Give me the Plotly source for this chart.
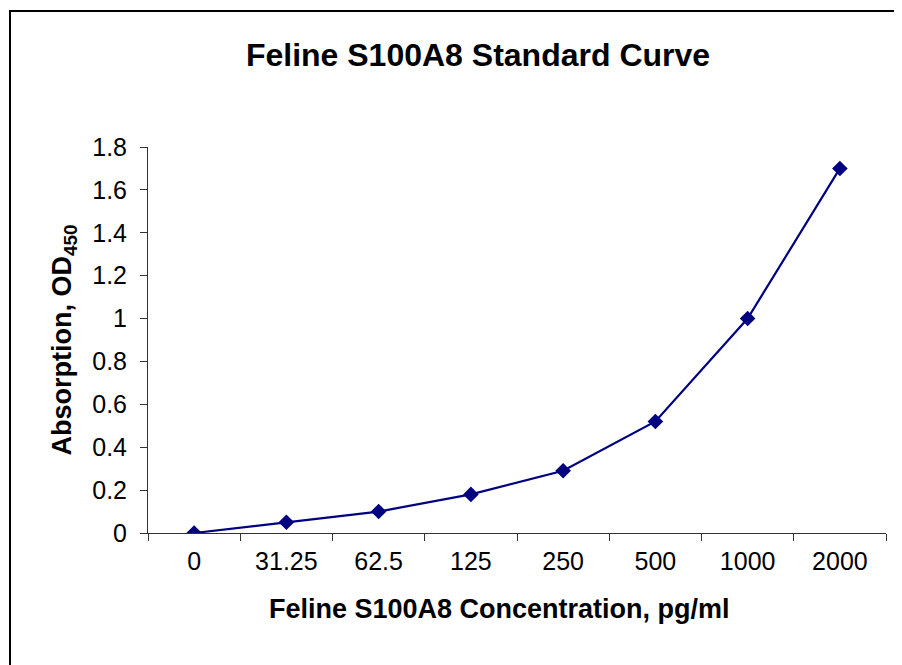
import plotly.graph_objects as go

concentrations = ["0", "31.25", "62.5", "125", "250", "500", "1000", "2000"]
absorbance = [0.0, 0.05, 0.10, 0.18, 0.29, 0.52, 1.00, 1.70]
y_ticks = [0, 0.2, 0.4, 0.6, 0.8, 1.0, 1.2, 1.4, 1.6, 1.8]
y_tick_text = ["0", "0.2", "0.4", "0.6", "0.8", "1", "1.2", "1.4", "1.6", "1.8"]

FONT = "Liberation Sans, Arial, sans-serif"

fig = go.Figure()
fig.add_trace(go.Scatter(
    x=concentrations, y=absorbance, mode="lines+markers",
    line=dict(color="#000080", width=2.2),
    marker=dict(symbol="diamond", size=12, color="#000080"),
    showlegend=False, hoverinfo="skip",
))

W, H = 902, 665
L, R, T, B = 140, 24, 139, 140
pw, ph = W - L - R, H - T - B

fig.update_layout(
    width=W, height=H,
    margin=dict(l=L, r=R, t=T, b=B, autoexpand=False),
    paper_bgcolor="white", plot_bgcolor="white",
    font=dict(family=FONT, color="black", size=24),
    title=dict(text="<b>Feline S100A8 Standard Curve</b>",
               font=dict(family=FONT, size=32, color="black"),
               x=470 / W, xanchor="center", xref="container",
               y=1 - 47 / H, yanchor="middle", yref="container"),
    xaxis=dict(
        type="category", range=[-0.5, 7.5], tickson="boundaries",
        ticks="outside", ticklen=7, tickcolor="#333", tickwidth=1,
        showline=True, linecolor="#333", linewidth=1, showgrid=False,
        tickfont=dict(family=FONT, size=25, color="black"),
        ticklabelstandoff=6,
        automargin=False, zeroline=False,
    ),
    yaxis=dict(
        range=[0, 1.8], tickvals=y_ticks, ticktext=y_tick_text,
        ticks="outside", ticklen=7, tickcolor="#333", tickwidth=1,
        showline=True, linecolor="#333", linewidth=1, showgrid=False,
        tickfont=dict(family=FONT, size=25, color="black"),
        ticklabelstandoff=8,
        title=dict(text="<b>Absorption, OD<sub>450</sub></b>",
                   font=dict(family=FONT, size=27, color="black"), standoff=12),
        automargin=False, zeroline=False,
    ),
    annotations=[dict(text="<b>Feline S100A8 Concentration, pg/ml</b>",
                      xref="paper", yref="paper",
                      x=(491 - L) / pw, y=-76 / ph,
                      xanchor="center", yanchor="middle", showarrow=False,
                      font=dict(family=FONT, size=27, color="black"))],
    shapes=[dict(type="rect", xref="paper", yref="paper",
                 x0=(2 - L) / pw, x1=1.2, y0=-0.6, y1=1 + (T - 3) / ph,
                 line=dict(color="black", width=2), fillcolor="rgba(0,0,0,0)",
                 layer="below")],
)

fig.write_html("out.html")
